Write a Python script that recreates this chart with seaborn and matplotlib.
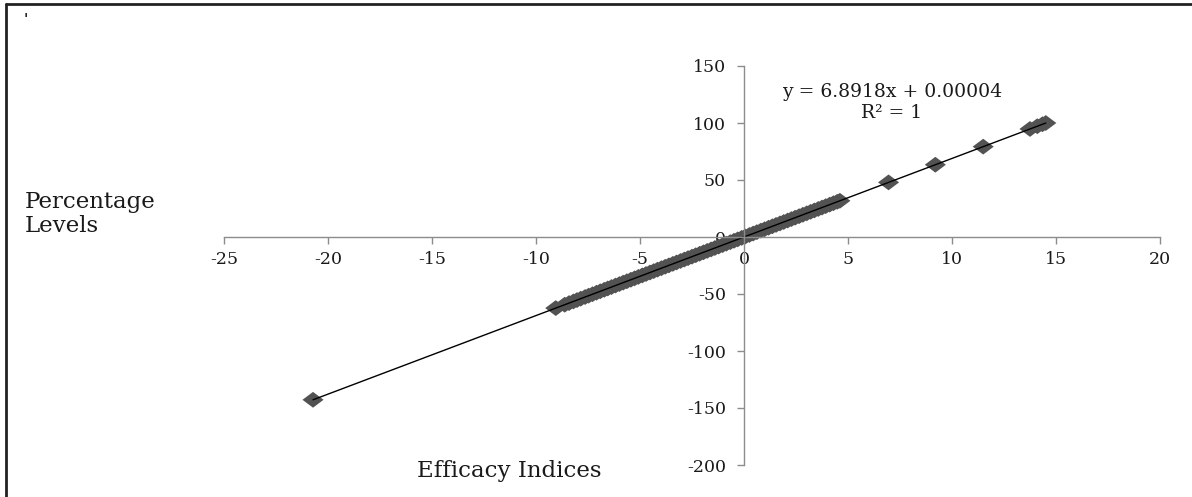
import matplotlib
matplotlib.use("Agg")
import matplotlib.pyplot as plt
from matplotlib.lines import Line2D
import pandas as pd
import seaborn as sns

sns.set_theme(style="white")
plt.rcParams["font.family"] = ["DejaVu Serif"]
plt.rcParams["axes.unicode_minus"] = False

efficacy = [
    -20.72, -9.05, -8.62, -8.41, -8.20, -8.03, -7.85, -7.64, -7.47, -7.28, -7.09,
    -6.91, -6.72, -6.55, -6.37, -6.18, -5.99, -5.81, -5.63, -5.44, -5.26, -5.08,
    -4.89, -4.71, -4.52, -4.34, -4.16, -3.97, -3.79, -3.61, -3.42, -3.24, -3.05,
    -2.87, -2.69, -2.50, -2.32, -2.13, -1.95, -1.77, -1.58, -1.40, -1.22, -1.03,
    -0.85, -0.66, -0.48, -0.30, -0.11, 0.07, 0.26, 0.44, 0.62, 0.81, 0.99,
    1.18, 1.36, 1.54, 1.73, 1.91, 2.10, 2.28, 2.46, 2.65, 2.83, 3.02,
    3.20, 3.38, 3.57, 3.75, 3.93, 4.12, 4.30, 4.48, 4.61,
    6.95, 9.20, 11.50, 13.75, 14.10, 14.35, 14.51,
]
percentage = [
    -142.80, -62.37, -59.41, -57.96, -56.51, -55.34, -54.10, -52.65, -51.48, -50.17, -48.86,
    -47.62, -46.31, -45.14, -43.90, -42.59, -41.28, -40.04, -38.80, -37.49, -36.25, -35.01,
    -33.70, -32.46, -31.15, -29.91, -28.67, -27.36, -26.12, -24.88, -23.57, -22.33, -21.02,
    -19.78, -18.54, -17.23, -15.99, -14.68, -13.44, -12.20, -10.89, -9.65, -8.41, -7.10,
    -5.86, -4.55, -3.31, -2.07, -0.76, 0.48, 1.79, 3.03, 4.27, 5.58, 6.82,
    8.13, 9.37, 10.61, 11.92, 13.16, 14.47, 15.71, 16.95, 18.26, 19.50, 20.81,
    22.05, 23.29, 24.60, 25.84, 27.08, 28.39, 29.63, 30.87, 31.77,
    47.90, 63.40, 79.26, 94.76, 97.17, 98.90, 100.00,
]

x_ticks = [-25, -20, -15, -10, -5, 0, 5, 10, 15, 20]
y_ticks = [-200, -150, -100, -50, 0, 50, 100, 150]

df = pd.DataFrame({"efficacy": efficacy, "percentage": percentage})

W, H = 1192, 497
fig = plt.figure(figsize=(W / 100, H / 100), dpi=100)
ax = fig.add_axes([224 / W, 1 - 465 / H, (1160 - 224) / W, (465 - 66) / H])

# wide Excel-like diamond
diamond = [(-1, 0), (0, 0.75), (1, 0), (0, -0.75), (-1, 0)]
sns.scatterplot(data=df, x="efficacy", y="percentage", marker=diamond, s=230,
                color="#525252", edgecolor="none", linewidth=0, ax=ax, zorder=2)
sns.regplot(data=df, x="efficacy", y="percentage", scatter=False, ci=None,
            truncate=True, line_kws=dict(color="black", lw=1), ax=ax)

ax.set_xlim(-25, 20)
ax.set_ylim(-200, 150)
ax.set_xticks(x_ticks)
ax.set_yticks(y_ticks)
ax.set_xlabel("")
ax.set_ylabel("")

for side in ["top", "right"]:
    ax.spines[side].set_visible(False)
ax.spines["left"].set_position(("data", 0))
ax.spines["bottom"].set_position(("data", 0))
for side in ["left", "bottom"]:
    ax.spines[side].set_color("#8c8c8c")
    ax.spines[side].set_linewidth(1)

ax.tick_params(axis="x", direction="out", length=5, width=1, color="#8c8c8c",
               labelsize=12.5, pad=5, bottom=True, labelcolor="#1a1a1a")
ax.tick_params(axis="y", direction="out", length=5, width=1, color="#8c8c8c",
               labelsize=12.5, pad=8, left=True, labelcolor="#1a1a1a")
ax.patch.set_alpha(0)

fig.text(25 / W, 1 - 208 / H, "Percentage", fontsize=16.5, va="baseline", ha="left", color="#1a1a1a")
fig.text(25 / W, 1 - 232 / H, "Levels", fontsize=16.5, va="baseline", ha="left", color="#1a1a1a")
fig.text(509 / W, 1 - 477 / H, "Efficacy Indices", fontsize=16.5, va="baseline", ha="center", color="#1a1a1a")
fig.text(892 / W, 1 - 97 / H, "y = 6.8918x + 0.00004", fontsize=13.5, va="baseline", ha="center", color="#1a1a1a")
fig.text(892 / W, 1 - 118 / H, "R² = 1", fontsize=13.5, va="baseline", ha="center", color="#1a1a1a")
fig.text(24 / W, 1 - 24 / H, "'", fontsize=10, fontweight="bold", ha="left")

# partial frame (top and left edges)
fig.add_artist(Line2D([6 / W, 6 / W], [0, 1 - 4 / H], color="#222222", lw=2))
fig.add_artist(Line2D([6 / W, 1], [1 - 4 / H, 1 - 4 / H], color="#222222", lw=2))

fig.savefig("out.png", dpi=100)
